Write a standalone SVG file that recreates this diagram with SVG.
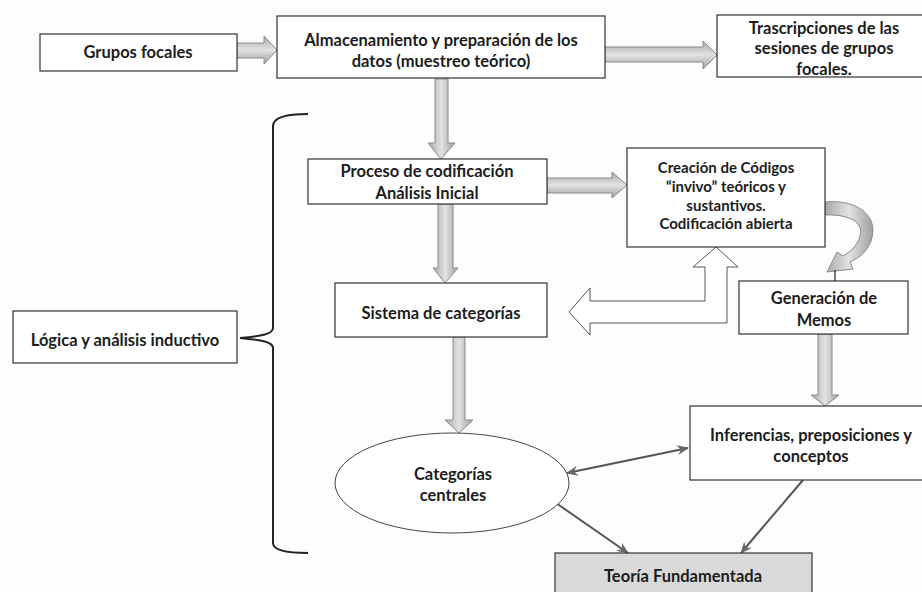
<svg xmlns="http://www.w3.org/2000/svg" width="922" height="592" viewBox="0 0 922 592">
<defs>
<linearGradient id="gh" x1="0" y1="0" x2="0" y2="1">
<stop offset="0" stop-color="#a8a8a8"/><stop offset="0.5" stop-color="#e2e2e2"/><stop offset="1" stop-color="#a0a0a0"/>
</linearGradient>
<linearGradient id="gv" x1="0" y1="0" x2="1" y2="0">
<stop offset="0" stop-color="#a8a8a8"/><stop offset="0.5" stop-color="#e2e2e2"/><stop offset="1" stop-color="#a0a0a0"/>
</linearGradient>
<marker id="ah" viewBox="0 0 12 10" refX="11" refY="5" markerWidth="12" markerHeight="10" markerUnits="userSpaceOnUse" orient="auto-start-reverse">
<path d="M0,0 L12,5 L0,10 L4,5 Z" fill="#666"/>
</marker>
<style>
.box{fill:#fff;stroke:#333;stroke-width:1.2}
.t{font-family:Lato,"Open Sans","Liberation Sans",sans-serif;font-weight:bold;font-size:16.5px;fill:#1c1c1c;text-anchor:middle}
.s{font-size:15px}
.bh{fill:url(#gh);stroke:#8a8a8a;stroke-width:1}
.bv{fill:url(#gv);stroke:#8a8a8a;stroke-width:1}
.thin{fill:none;stroke:#555;stroke-width:2;marker-end:url(#ah)}
</style>
</defs>
<rect width="922" height="592" fill="#fdfdfd"/>

<g id="connectors">
<polygon class="bh" points="237,43 264,43 264,36 277,50 264,64 264,58 237,58"/>
<polygon class="bh" points="605,47 703,47 703,41 717,55 703,69 703,62 605,62"/>
<polygon class="bv" points="435,79 448,79 448,143 455,143 441,159 428,143 435,143"/>
<polygon class="bh" points="547,178 612,178 612,172 627,185 612,198 612,193 547,193"/>
<polygon class="bv" points="438,204 453,204 453,268 458,268 445,283 433,268 438,268"/>
<polygon class="bv" points="453,337 465,337 465,420 473,420 459,433 445,420 453,420"/>
<polygon class="bv" points="818,334 832,334 832,395 839,395 825,406 811,395 818,395"/>
<path class="bv" d="M825,202 C856,199 880,215 871,241 C867,252 859,258 850,262 L853,269 L827,272 L837,252 L843,256 C852,251 858,244 860,236 C864,223 850,214 825,215 Z"/>
<line x1="835" y1="270" x2="835" y2="281" stroke="#222" stroke-width="1.2"/>
<polygon points="569,312 590,288 590,301 705,301 705,267 693,267 716,247 738,267 727,267 727,323 590,323 590,335" fill="#fff" stroke="#555" stroke-width="1"/>
<path d="M308,114 C290,114 273,116 273,126 L273,328 C273,334 262,336 240,338 C262,340 273,342 273,348 L273,543 C273,551 290,553 308,553" fill="none" stroke="#222" stroke-width="2"/>
<line class="thin" x1="688" y1="448" x2="567" y2="473" style="marker-start:url(#ah)"/>
<line class="thin" x1="556" y1="503" x2="628" y2="553"/>
<line class="thin" x1="803" y1="480" x2="741" y2="553"/>
</g>

<g id="grupos"><rect class="box" x="40" y="34" width="197" height="37"/><text class="t" x="138" y="58">Grupos focales</text></g>
<g id="almacenamiento"><rect class="box" x="277" y="16" width="328" height="62"/><text class="t" x="441" y="46">Almacenamiento y preparación de los</text><text class="t" x="441" y="67">datos (muestreo teórico)</text></g>
<g id="trascripciones"><rect class="box" x="717" y="15" width="215" height="62"/><text class="t" x="824" y="34">Trascripciones de las</text><text class="t" x="824" y="54">sesiones de grupos</text><text class="t" x="824" y="75">focales.</text></g>
<g id="proceso"><rect class="box" x="308" y="159" width="239" height="45"/><text class="t" x="427" y="177">Proceso de codificación</text><text class="t" x="427" y="199">Análisis Inicial</text></g>
<g id="creacion"><rect class="box" x="627" y="148" width="198" height="99"/><text class="t s" x="726" y="173">Creación de Códigos</text><text class="t s" x="726" y="192">“invivo” teóricos  y</text><text class="t s" x="726" y="211">sustantivos.</text><text class="t s" x="726" y="229">Codificación abierta</text></g>
<g id="sistema"><rect class="box" x="335" y="283" width="212" height="54"/><text class="t" x="441" y="319">Sistema de categorías</text></g>
<g id="generacion"><rect class="box" x="739" y="281" width="169" height="53"/><text class="t" x="824" y="304">Generación de</text><text class="t" x="824" y="326">Memos</text></g>
<g id="logica"><rect class="box" x="13" y="311" width="224" height="52"/><text class="t" x="125" y="346">Lógica y análisis inductivo</text></g>
<g id="categorias"><ellipse cx="452" cy="483" rx="117" ry="50" fill="#fff" stroke="#444" stroke-width="1"/><text class="t" x="453" y="480">Categorías</text><text class="t" x="453" y="501">centrales</text></g>
<g id="inferencias"><rect class="box" x="690" y="406" width="240" height="74"/><text class="t" x="811" y="441">Inferencias, preposiciones y</text><text class="t" x="811" y="462">conceptos</text></g>
<g id="teoria"><rect x="555" y="553" width="257" height="45" fill="#d9d9d9" stroke="#333" stroke-width="1.2"/><text class="t" x="683" y="582">Teoría Fundamentada</text></g>
</svg>
